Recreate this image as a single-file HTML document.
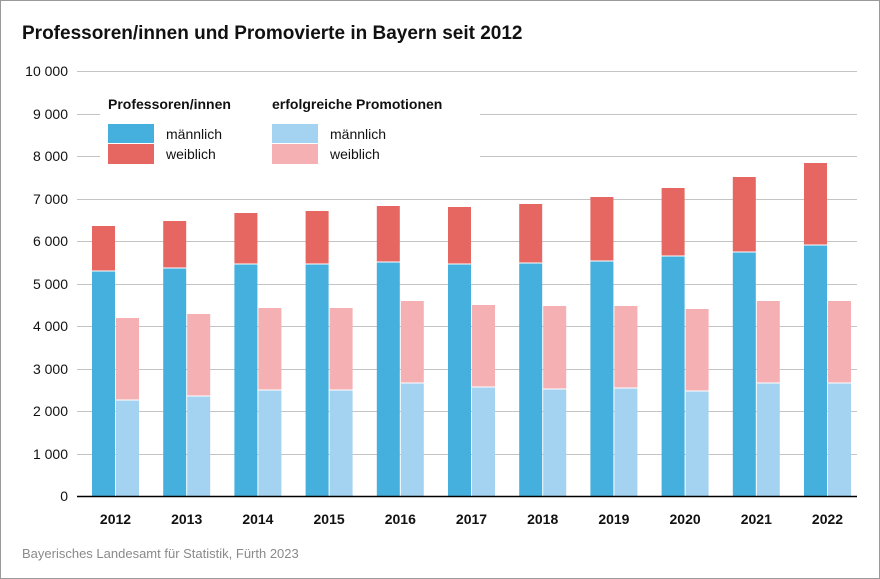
<!DOCTYPE html>
<html><head><meta charset="utf-8"><style>
body{margin:0;background:#fff}
svg{display:block;font-family:"Liberation Sans",Arial,sans-serif}
</style></head><body>
<svg width="880" height="579" viewBox="0 0 880 579" xmlns="http://www.w3.org/2000/svg">
<rect x="0.5" y="0.5" width="879" height="578" fill="#fff" stroke="#9a9a9a"/>
<text x="22" y="39" font-size="19" font-weight="bold" fill="#111">Professoren/innen und Promovierte in Bayern seit 2012</text>
<g stroke="#c4c4c4" stroke-width="1">
<line x1="77" x2="857" y1="71.5" y2="71.5"/><line x1="77" x2="857" y1="114.5" y2="114.5"/><line x1="77" x2="857" y1="156.5" y2="156.5"/><line x1="77" x2="857" y1="199.5" y2="199.5"/><line x1="77" x2="857" y1="241.5" y2="241.5"/><line x1="77" x2="857" y1="284.5" y2="284.5"/><line x1="77" x2="857" y1="326.5" y2="326.5"/><line x1="77" x2="857" y1="369.5" y2="369.5"/><line x1="77" x2="857" y1="411.5" y2="411.5"/><line x1="77" x2="857" y1="454.5" y2="454.5"/>
</g>
<g font-size="14" fill="#111" text-anchor="end">
<text x="68" y="76">10 000</text><text x="68" y="119">9 000</text><text x="68" y="161">8 000</text><text x="68" y="204">7 000</text><text x="68" y="246">6 000</text><text x="68" y="289">5 000</text><text x="68" y="331">4 000</text><text x="68" y="374">3 000</text><text x="68" y="416">2 000</text><text x="68" y="459">1 000</text><text x="68" y="501">0</text>
</g>
<rect x="100" y="88" width="380" height="86" fill="#fff"/>
<text x="108" y="109" font-size="14" font-weight="bold" fill="#111">Professoren/innen</text>
<text x="272" y="109" font-size="14" font-weight="bold" fill="#111">erfolgreiche Promotionen</text>
<rect x="108" y="124" width="46" height="19" fill="#45b0dd"/><rect x="108" y="144" width="46" height="20" fill="#e66762"/>
<rect x="272" y="124" width="46" height="19" fill="#a3d3f0"/><rect x="272" y="144" width="46" height="20" fill="#f5b0b3"/>
<g font-size="14" fill="#111"><text x="166" y="139">männlich</text><text x="166" y="159">weiblich</text><text x="330" y="139">männlich</text><text x="330" y="159">weiblich</text></g>
<g id="bars"></g>
<line x1="77" x2="857" y1="496.5" y2="496.5" stroke="#000" stroke-width="1.5"/>
<g id="years" font-size="14" font-weight="bold" fill="#111" text-anchor="middle"></g>
<text x="22" y="558" font-size="13" fill="#8a8a8a">Bayerisches Landesamt für Statistik, Fürth 2023</text>
<script>
var d=[[226,271,318,400],[221,268,314,396],[213,264,308,390],[211,264,308,390],[206,262,301,383],[207,264,305,387],[204,263,306,389],[197,261,306,388],[188,256,309,391],[177,252,301,383],[163,245,301,383]];
var ns="http://www.w3.org/2000/svg",b=document.getElementById("bars"),y=document.getElementById("years");
function r(x,y1,y2,c){var e=document.createElementNS(ns,"rect");e.setAttribute("x",x);e.setAttribute("y",y1);e.setAttribute("width",23);e.setAttribute("height",y2-y1);e.setAttribute("fill",c);b.appendChild(e);}
d.forEach(function(v,i){var x=92+i*71.2;
r(x,v[0],v[1]-0.5,"#e66762");r(x,v[1]+0.5,496,"#45b0dd");
r(x+24,v[2],v[3]-0.5,"#f5b0b3");r(x+24,v[3]+0.5,496,"#a3d3f0");
var t=document.createElementNS(ns,"text");t.setAttribute("x",x+23.5);t.setAttribute("y",524);t.textContent=2012+i;y.appendChild(t);});
</script>
</svg>
</body></html>
